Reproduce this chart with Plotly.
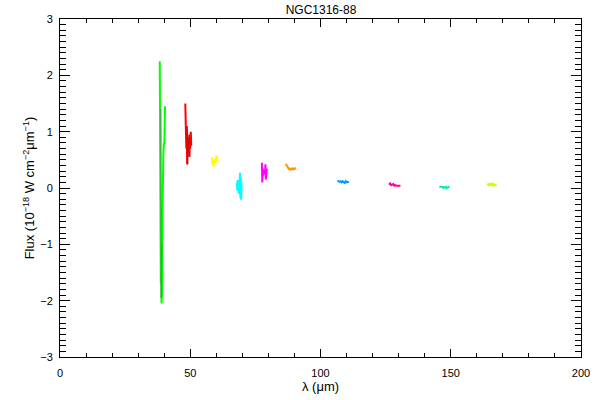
import plotly.graph_objects as go

# ---- data ----
green_x = [38.3, 38.35, 38.5, 38.7, 38.85, 38.95, 39.05, 39.15, 39.3, 39.5, 39.7, 39.9, 40.1, 40.3]
green_y = [2.25, 1.1, 1.05, -1.7, -0.55, -2.05, -0.6, -1.9, -0.55, 0.6, 0.65, 0.8, 0.78, 1.45]

grey1_x = [38.75, 38.85, 38.95, 39.05]
grey1_y = [1.4, -1.95, 1.1, -1.0]

red_x = [48.1, 48.2, 48.4, 48.5, 48.7, 48.8, 49.0, 49.1, 49.3, 49.4, 49.6, 49.7, 49.9, 50.0, 50.2, 50.4]
red_y = [1.5, 0.8, 1.25, 0.7, 1.1, 0.42, 0.95, 0.6, 0.9, 0.7, 0.85, 0.55, 0.95, 0.7, 1.0, 0.75]

grey2_x = [48.9, 49.0, 49.1]
grey2_y = [1.05, 0.42, 0.9]

yellow_x = [58.3, 58.5, 58.7, 58.9, 59.1, 59.3, 59.5, 59.7, 59.9, 60.1, 60.3, 60.5]
yellow_y = [0.55, 0.42, 0.5, 0.38, 0.48, 0.45, 0.52, 0.44, 0.5, 0.58, 0.47, 0.55]

cyan_x = [67.9, 68.05, 68.2, 68.35, 68.5, 68.65, 68.8, 68.95, 69.1, 69.25, 69.4, 69.55, 69.7]
cyan_y = [0.1, -0.05, 0.14, 0.02, 0.12, -0.1, 0.14, 0.05, 0.27, -0.18, 0.2, -0.21, 0.1]

magenta_x = [77.5, 77.65, 77.8, 77.95, 78.1, 78.25, 78.4, 78.55, 78.7, 78.85, 79.0, 79.2, 79.4, 79.6]
magenta_y = [0.45, 0.1, 0.35, 0.22, 0.3, 0.25, 0.28, 0.32, 0.24, 0.42, 0.15, 0.3, 0.33, 0.34]

orange_x = [86.7, 87.0, 87.3, 87.6, 87.9, 88.2, 88.5, 88.8, 89.1, 89.4, 89.7, 90.0, 90.3, 90.6]
orange_y = [0.43, 0.40, 0.38, 0.37, 0.33, 0.36, 0.31, 0.35, 0.33, 0.36, 0.32, 0.34, 0.35, 0.34]

blue_x = [106.5, 106.9, 107.3, 107.7, 108.1, 108.5, 108.9, 109.3, 109.7, 110.1, 110.5, 110.9]
blue_y = [0.13, 0.12, 0.11, 0.12, 0.10, 0.12, 0.11, 0.09, 0.12, 0.10, 0.11, 0.10]

pink_x = [126.3, 126.7, 127.1, 127.5, 127.9, 128.3, 128.7, 129.1, 129.5, 129.9, 130.3, 130.7]
pink_y = [0.06, 0.08, 0.05, 0.06, 0.07, 0.04, 0.05, 0.04, 0.04, 0.04, 0.04, 0.04]

aqua_x = [145.6, 146.0, 146.4, 146.8, 147.2, 147.6, 148.0, 148.4, 148.8, 149.2, 149.5]
aqua_y = [0.02, 0.02, 0.01, 0.02, 0.00, 0.01, 0.02, 0.00, 0.01, 0.02, 0.01]

lime_x = [164.0, 164.4, 164.8, 165.2, 165.6, 166.0, 166.4, 166.8, 167.2, 167.6]
lime_y = [0.05, 0.07, 0.04, 0.08, 0.05, 0.09, 0.04, 0.06, 0.05, 0.04]

segments = [
    (green_x, green_y, "#00ff00", 2),
    (grey1_x, grey1_y, "#777777", 1),
    (red_x, red_y, "#ff0000", 2),
    (grey2_x, grey2_y, "#444444", 1),
    (yellow_x, yellow_y, "#ffff00", 2),
    (cyan_x, cyan_y, "#00ffff", 2),
    (magenta_x, magenta_y, "#ff00ff", 2),
    (orange_x, orange_y, "#ff9900", 2),
    (blue_x, blue_y, "#0099ff", 2),
    (pink_x, pink_y, "#ff0099", 2),
    (aqua_x, aqua_y, "#00ee99", 2),
    (lime_x, lime_y, "#ccff00", 2),
]

fig = go.Figure()
for xs, ys, col, w in segments:
    fig.add_trace(go.Scatter(x=xs, y=ys, mode="lines",
                             line=dict(color=col, width=w), showlegend=False,
                             hoverinfo="skip"))

font = dict(family="Liberation Sans, Arial, sans-serif", size=11, color="black")

fig.update_layout(
    width=600, height=400,
    margin=dict(l=60, r=19, t=19, b=43, autoexpand=False),
    paper_bgcolor="white", plot_bgcolor="white",
    font=font,
    title=dict(text="NGC1316-88", x=0.535, xanchor="center", y=0.975, yanchor="middle",
               font=dict(size=12, family=font["family"], color="black")),
    xaxis=dict(range=[0, 200], tickvals=[0, 50, 100, 150, 200], automargin=False,
               ticks="inside", ticklen=8, tickwidth=1, tickcolor="black",
               showline=True, linecolor="black", linewidth=1, mirror="allticks",
               showgrid=False, zeroline=False,
               minor=dict(ticks="inside", dtick=10, ticklen=4, tickcolor="black", showgrid=False),
               title=dict(text="λ (μm)", standoff=1),
               ticklabelstandoff=6),
    yaxis=dict(range=[-3, 3], tickvals=[-3, -2, -1, 0, 1, 2, 3], automargin=False,
               ticks="inside", ticklen=10, tickwidth=1, tickcolor="black",
               showline=True, linecolor="black", linewidth=1, mirror="allticks",
               showgrid=False, zeroline=False,
               minor=dict(ticks="inside", dtick=0.1, ticklen=6, tickcolor="black", showgrid=False),
               title=dict(text="Flux (10<sup>−18</sup> W cm<sup>−2</sup>μm<sup>−1</sup>)", standoff=2),
               ticklabelstandoff=4),
)

fig.write_html("out.html", config={"displayModeBar": False},
               post_script="document.body.style.margin='0';")
